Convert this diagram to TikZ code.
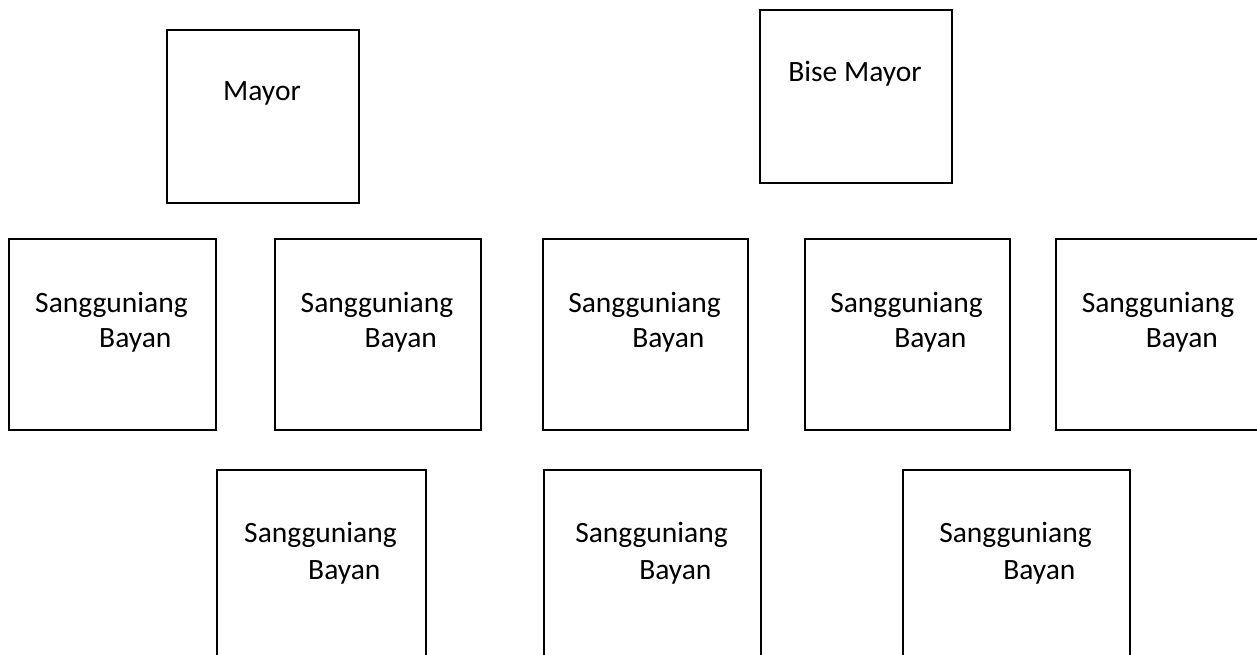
\documentclass[tikz,border=0pt]{standalone}
\usepackage{fontspec}
\setmainfont{Carlito}
\begin{document}
\begin{tikzpicture}[x=1pt,y=-1pt,
  box/.style={draw=black,line width=1.6pt,rectangle,inner sep=0pt,anchor=north west},
  lbl/.style={inner sep=0pt,font=\fontsize{29.5}{34}\selectfont,text=black}]
\useasboundingbox (0,0) rectangle (1257,655);
\clip (0,0) rectangle (1257,655);
% top row
\node[box,minimum width=192pt,minimum height=173pt] (mayor) at (166,29) {};
\node[lbl,anchor=base] (tmayor) at (262,101) {Mayor};
\node[box,minimum width=192pt,minimum height=173pt] (bise) at (759,9) {};
\node[lbl,anchor=base] (tbise) at (855,82) {Bise Mayor};
% middle row
\foreach \n/\l/\r in {1/8/215, 2/274/480, 3/542/747, 4/804/1009, 5/1055/1261}{
  \pgfmathsetmacro\w{\r-\l}
  \pgfmathsetmacro\c{(\l+\r)/2}
  \node[box,minimum width=\w pt,minimum height=191pt] (m\n) at (\l,238) {};
  \node[lbl,anchor=base] (m\n a) at (\c,312) {Sangguniang};
  \node[lbl,anchor=base west] (m\n b) at ([xshift=64pt,yshift=-35pt]m\n a.base west) {Bayan};
}
% bottom row
\foreach \n/\l/\r in {1/216/425, 2/543/760, 3/902/1129}{
  \pgfmathsetmacro\w{\r-\l}
  \pgfmathsetmacro\c{(\l+\r)/2}
  \node[box,minimum width=\w pt,minimum height=210pt] (b\n) at (\l,469) {};
  \node[lbl,anchor=base] (b\n a) at (\c,542) {Sangguniang};
  \node[lbl,anchor=base west] (b\n b) at ([xshift=64pt,yshift=-37pt]b\n a.base west) {Bayan};
}
\end{tikzpicture}
\end{document}
